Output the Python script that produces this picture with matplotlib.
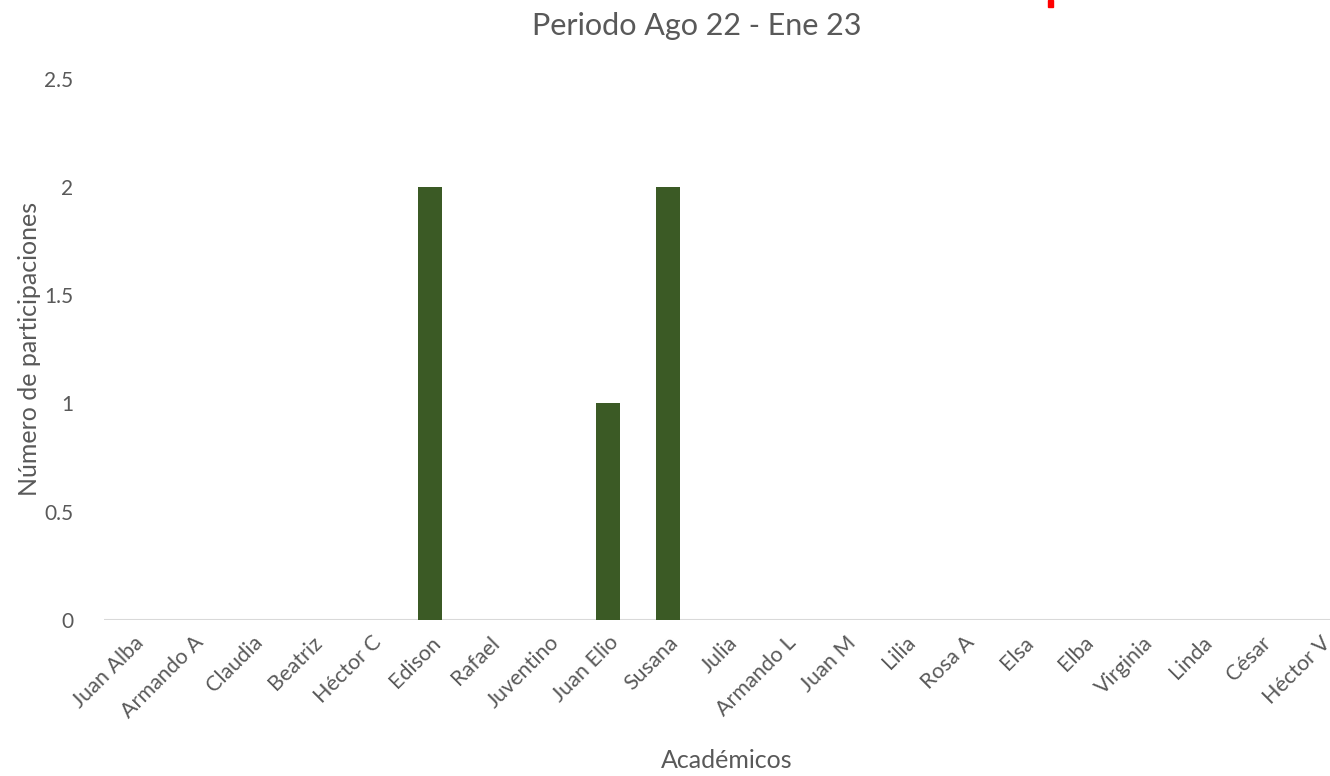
import matplotlib
matplotlib.use("Agg")
import matplotlib.pyplot as plt
from matplotlib.patches import Rectangle

academicos = ["Juan Alba", "Armando A", "Claudia", "Beatriz", "Héctor C", "Edison",
              "Rafael", "Juventino", "Juan Elio", "Susana", "Julia", "Armando L",
              "Juan M", "Lilia", "Rosa A", "Elsa", "Elba", "Virginia", "Linda",
              "César", "Héctor V"]
participaciones = [0, 0, 0, 0, 0, 2, 0, 0, 1, 2, 0, 0, 0, 0, 0, 0, 0, 0, 0, 0, 0]
yticks = [0, 0.5, 1, 1.5, 2, 2.5]
ytick_labels = ["0", "0.5", "1", "1.5", "2", "2.5"]

plt.rcParams['font.family'] = ['Lato', 'DejaVu Sans']
gray = "#595959"

fig = plt.figure(figsize=(13.3, 7.76), dpi=100)
ax = fig.add_axes([104/1330, 1-620/776, (1350-104)/1330, (620-78.7)/776])

x = list(range(len(academicos)))
ax.bar(x, participaciones, width=0.4, color="#3B5A25", zorder=3)
ax.set_xlim(-0.5, len(academicos)-0.5)
ax.set_ylim(0, 2.5)
ax.set_yticks(yticks)
ax.set_yticklabels(ytick_labels)
ax.axhline(0, color="#D9D9D9", lw=1.5, zorder=2)

for s in ax.spines.values():
    s.set_visible(False)
ax.tick_params(axis='both', length=0, colors=gray)
ax.tick_params(axis='y', pad=22, labelsize=15)
ax.tick_params(axis='x', pad=9, labelsize=15.5)
ax.set_xticks(x)
ax.set_xticklabels(academicos, rotation=45, ha='right', rotation_mode='anchor')

ax.set_ylabel("Número de participaciones", fontsize=18, color=gray)
ax.yaxis.set_label_coords((30-104)/(1350-104), 0.5)
ax.yaxis.label.set_va('center')
fig.text(727/1330, 1-760/776, "Académicos", ha='center', va='center', fontsize=18, color=gray)
fig.text(697/1330, 1-26/776, "Periodo Ago 22 - Ene 23", ha='center', va='center', fontsize=22, color=gray)

fig.patches.append(Rectangle((1047.7/1330, 1-7/776), 5.5/1330, 7/776,
                             transform=fig.transFigure, color="#FF0000", zorder=5))

fig.savefig("out.png", dpi=100)
